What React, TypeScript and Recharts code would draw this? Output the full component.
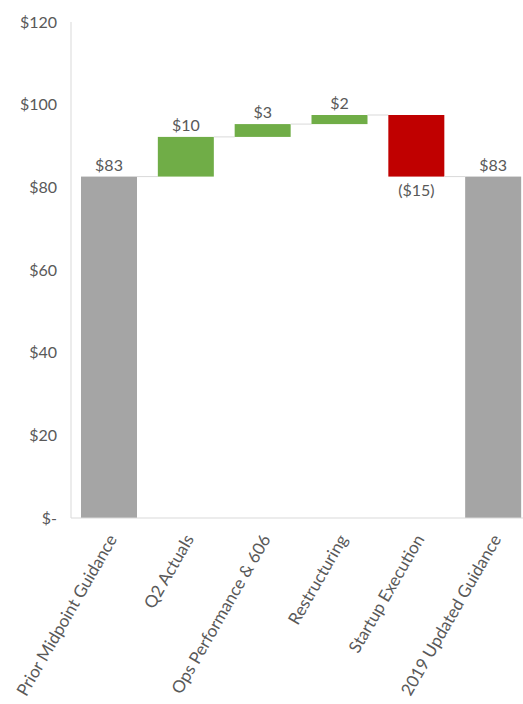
import React from "react";
import { BarChart, Bar, XAxis, YAxis } from "recharts";

const categories = [
  "Prior Midpoint Guidance",
  "Q2 Actuals",
  "Ops Performance & 606",
  "Restructuring",
  "Startup Execution",
  "2019 Updated Guidance",
];
const amounts = [82.6, 9.6, 3.1, 2.2, -14.9, 82.6];
const kinds = ["total", "delta", "delta", "delta", "delta", "total"];
const valueLabels = ["$83", "$10", "$3", "$2", "($15)", "$83"];
const yTicks = [0, 20, 40, 60, 80, 100, 120];

const COLORS = { total: "#a5a5a5", up: "#70ad47", down: "#c00000" };
const TEXT = "#595959";
const FONT = "Lato, 'Open Sans', sans-serif";

const W = 523;
const H = 704;
const Y_AXIS_W = 71;
const RIGHT = -9; // the original plot runs past the right edge of the picture
const BAR_SIZE = 56;
const STEP = (W - Y_AXIS_W - RIGHT) / categories.length;

let run = 0;
const data = categories.map((name, i) => {
  const v = amounts[i];
  let range: [number, number];
  let color: string;
  if (kinds[i] === "total") {
    range = [0, v];
    run = v;
    color = COLORS.total;
  } else {
    range = [Math.min(run, run + v), Math.max(run, run + v)];
    run += v;
    color = v < 0 ? COLORS.down : COLORS.up;
  }
  return { name, range, color, delta: v, label: valueLabels[i], hasNext: i < categories.length - 1 };
});

const WaterfallBar = (props: any) => {
  const { x, y, width, height, payload } = props;
  const neg = payload.delta < 0;
  const lineY = neg ? y + height : y;
  const gap = STEP - width;
  return (
    <g>
      <rect x={x} y={y} width={width} height={height} fill={payload.color} />
      {payload.hasNext && (
        <line x1={x + width} x2={x + width + gap} y1={lineY} y2={lineY} stroke="#d9d9d9" strokeWidth={1} />
      )}
      <text
        x={x + width / 2}
        y={neg ? y + height + 19 : y - 6}
        textAnchor="middle"
        fill={TEXT}
        fontSize={16}
        fontFamily={FONT}
      >
        {payload.label}
      </text>
    </g>
  );
};

const AngledTick = ({ x, y, payload }: any) => (
  <g transform={`translate(${x + 3},${y + 10})`}>
    <text transform="rotate(-60)" textAnchor="end" dy="0.35em" fill={TEXT} fontSize={17} fontFamily={FONT}>
      {payload.value}
    </text>
  </g>
);

export default function App() {
  return (
    <div style={{ position: "absolute", left: 0, top: 0, width: W, height: H, background: "#fff", overflow: "hidden" }}>
      <BarChart width={W} height={H} data={data} margin={{ top: 22, right: RIGHT, left: 0, bottom: 0 }}>
        <XAxis
          dataKey="name"
          height={186}
          interval={0}
          tickLine={false}
          axisLine={{ stroke: "#d9d9d9" }}
          tick={<AngledTick />}
        />
        <YAxis
          width={Y_AXIS_W}
          domain={[0, 120]}
          ticks={yTicks}
          tickLine={false}
          axisLine={{ stroke: "#d9d9d9" }}
          tickMargin={8}
          tick={{ fill: TEXT, fontSize: 16, fontFamily: FONT }}
          tickFormatter={(v: number) => (v === 0 ? "$-" : `$${v}`)}
        />
        <Bar dataKey="range" barSize={BAR_SIZE} shape={<WaterfallBar />} isAnimationActive={false} />
      </BarChart>
    </div>
  );
}
